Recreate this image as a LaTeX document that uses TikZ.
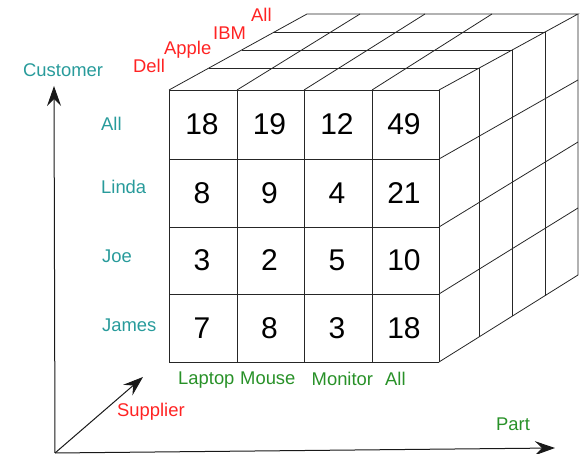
\documentclass[tikz,border=0pt]{standalone}
\usepackage{fontspec}
\setmainfont{Liberation Sans}
\usetikzlibrary{arrows.meta,calc}
\definecolor{custc}{RGB}{40,155,155}
\definecolor{suppc}{RGB}{255,35,35}
\definecolor{partc}{RGB}{40,145,40}
\begin{document}
\begin{tikzpicture}[x=1pt,y=-1pt,
  grid/.style={draw=black!85,line width=0.8pt},
  lab/.style={font=\fontsize{18.4}{22}\selectfont,inner sep=0pt,anchor=base west},
  num/.style={font=\fontsize{30}{36}\selectfont,inner sep=0pt},
  axis/.style={draw=black!90,line width=1pt,-{Stealth[length=20pt,width=14pt,inset=7pt]}}]
\useasboundingbox (0,0) rectangle (582,454);

% cube corners
\coordinate (TL) at (169,90);
\coordinate (TR) at (439,90);
\coordinate (BL) at (307,14);
\coordinate (BR) at (578,14);
\coordinate (RB) at (439,362);
\coordinate (RBB) at (578,275);

% front face grid
\foreach \x in {169,237,304,372,439} \draw[grid] (\x,90) -- (\x,362);
\foreach \y in {90,159,227,294,362} \draw[grid] (169,\y) -- (439,\y);

% top face
\draw[grid] (TL) -- (BL) -- (BR) -- (TR);
\foreach \t in {0.2895,0.5263,0.7632}
  \draw[grid] ($(TL)!\t!(BL)$) -- ($(TR)!\t!(BR)$);
\foreach \a/\b in {237/360,304/425,372/492} \draw[grid] (\a,90) -- (\b,14);

% right face
\draw[grid] (BR) -- (RBB) -- (RB);
\foreach \t in {0.2895,0.5263,0.7632}
  \draw[grid] ($(TR)!\t!(BR)$) -- ($(RB)!\t!(RBB)$);
\foreach \a/\b in {159/80,227/142,294/208} \draw[grid] (439,\a) -- (578,\b);

% cell values
\node[num] (v11) at (202,124.5) {18};
\node[num] (v12) at (269.5,124.5) {19};
\node[num] (v13) at (337,124.5) {12};
\node[num] (v14) at (404,124.5) {49};
\node[num] (v21) at (202,193) {8};
\node[num] (v22) at (269.5,193) {9};
\node[num] (v23) at (337,193) {4};
\node[num] (v24) at (404,193) {21};
\node[num] (v31) at (202,260.5) {3};
\node[num] (v32) at (269.5,260.5) {2};
\node[num] (v33) at (337,260.5) {5};
\node[num] (v34) at (404,260.5) {10};
\node[num] (v41) at (202,328) {7};
\node[num] (v42) at (269.5,328) {8};
\node[num] (v43) at (337,328) {3};
\node[num] (v44) at (404,328) {18};

% customer dimension
\node[lab,text=custc] (cust) at (23,77) {Customer};
\node[lab,text=custc] (c-all) at (101,131) {All};
\node[lab,text=custc] (c-linda) at (101,194) {Linda};
\node[lab,text=custc] (c-joe) at (102,263) {Joe};
\node[lab,text=custc] (c-james) at (102,332) {James};

% supplier dimension
\node[lab,text=suppc] (s-dell) at (133,73) {Dell};
\node[lab,text=suppc] (s-apple) at (164,55) {Apple};
\node[lab,text=suppc] (s-ibm) at (213,40) {IBM};
\node[lab,text=suppc] (s-all) at (251,22) {All};
\node[lab,text=suppc] (supp) at (117,417) {Supplier};

% part dimension
\node[lab,text=partc] (p-laptop) at (178,385) {Laptop};
\node[lab,text=partc] (p-mouse) at (240,385) {Mouse};
\node[lab,text=partc] (p-monitor) at (311.5,385.5) {Monitor};
\node[lab,text=partc] (p-all) at (385,385.5) {All};
\node[lab,text=partc] (part) at (496,431) {Part};

% axes
\coordinate (O) at (55,453);
\coordinate (ctip) at (54,86);
\coordinate (ptip) at (555,448);
\coordinate (stip) at (143,377);
\draw[axis] (O) -- (ctip);
\draw[axis] (O) -- (ptip);
\draw[axis] (O) -- (stip);
\end{tikzpicture}
\end{document}
